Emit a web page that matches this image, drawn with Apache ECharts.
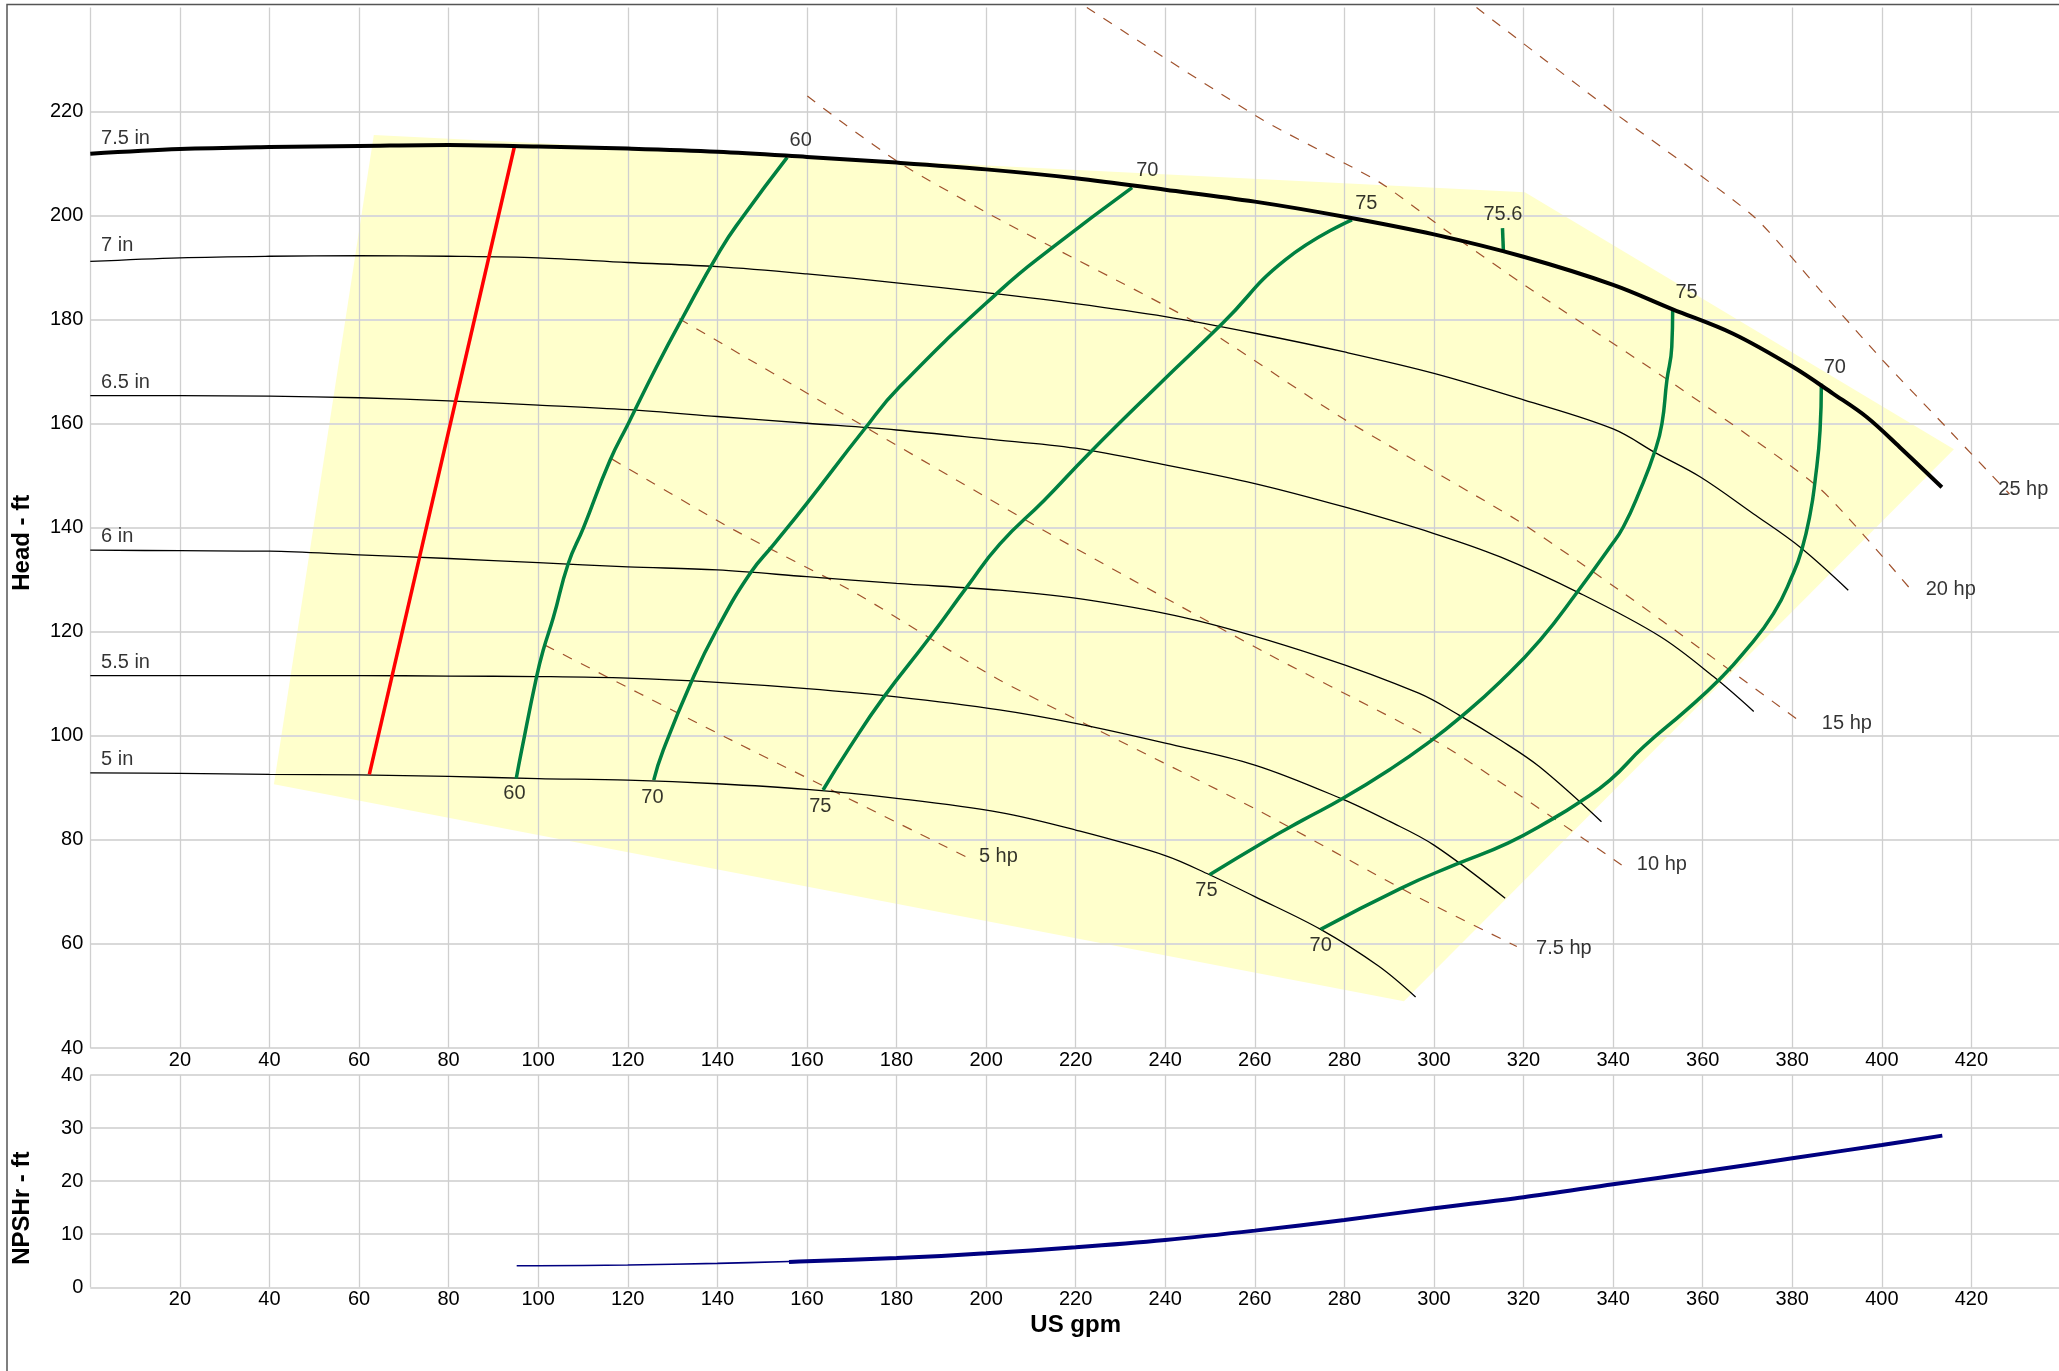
<!DOCTYPE html>
<html>
<head>
<meta charset="utf-8">
<script src="https://cdn.jsdelivr.net/npm/echarts/dist/echarts.min.js"></script>
<style>
html,body{margin:0;padding:0;background:#fff;}
#chart{width:2059px;height:1371px;}
</style>
</head>
<body>
<div id="chart"></div>
<script>
// ---------- impeller diameter curves: [US gpm, head ft] ----------
const dia75in = [[0,211.9],[20,212.8],[40,213.2],[60,213.4],[80,213.6],[100,213.3],[120,212.9],[140,212.3],[160,211.3],[180,210.2],[200,208.9],[220,207.2],[240,205.0],[260,202.7],[280,199.8],[300,196.4],[320,192.1],[340,186.7],[353.3,182.0],[366.8,177.3],[380.2,170.9],[389.1,165.8],[396.6,161.3],[404.0,155.5],[413.4,147.8]];
const dia7in = [[0,191.2],[20,191.9],[40,192.2],[60,192.3],[80,192.2],[100,191.9],[120,191.0],[140,190.2],[160,188.8],[180,187.1],[200,185.2],[220,183.1],[240,180.6],[260,177.4],[280,173.8],[300,169.7],[320,164.6],[340,159.0],[349.7,154.3],[359.4,149.8],[371.3,142.7],[381.7,136.3],[392.5,128.0]];
const dia65in = [[0,165.4],[20,165.4],[40,165.3],[60,165.0],[80,164.4],[100,163.6],[120,162.7],[140,161.4],[160,160.1],[180,158.8],[200,157.1],[220,155.3],[240,152.1],[260,148.5],[280,144.0],[300,138.9],[314.8,134.4],[332.6,127.4],[350.5,119.1],[362.4,111.4],[371.4,104.7]];
const dia6in = [[0,135.7],[20,135.6],[40,135.5],[60,134.8],[80,134.1],[100,133.3],[120,132.5],[140,131.9],[160,130.6],[180,129.3],[203,128.0],[223,126.1],[246.9,122.2],[274.7,115.2],[296.6,108.2],[305.6,104.0],[314.8,99.2],[323.5,94.1],[337.4,83.5]];
const dia55in = [[0,111.6],[20,111.6],[40,111.6],[60,111.6],[80,111.5],[100,111.4],[120,111.1],[140,110.3],[160,109.1],[180,107.5],[203,105.0],[220,102.4],[240,98.6],[260,94.4],[279.7,87.8],[290,83.6],[300,79.0],[315.9,68.8]];
const dia5in = [[0,92.9],[20,92.8],[40,92.6],[60,92.5],[80,92.2],[100,91.8],[120,91.5],[140,90.8],[160,89.7],[180,88.0],[203,85.3],[220,81.9],[240,77.0],[249.9,73.3],[260,69.1],[274.7,62.8],[287.7,55.7],[295.9,49.8]];

// ---------- efficiency curves ----------
const eff60 = [[155.6,211.2],[145.7,199.8],[140.6,193.3],[132.0,180.0],[126.4,170.9],[120.1,160.0],[116.0,152.9],[110.1,140.0],[106.7,133.1],[103.4,122.8],[101.1,116.4],[99.6,111.2],[96.3,97.2],[95.1,91.8]];
const eff70a = [[232.6,205.4],[215.0,194.0],[203.1,185.6],[180.7,167.1],[172.6,158.7],[159.9,144.6],[152.7,136.9],[147.3,131.2],[139.8,120.3],[134.3,110.6],[127.9,97.2],[125.8,91.5]];
const eff75a = [[281.7,199.2],[266.8,191.5],[252.8,179.3],[238.9,167.8],[223.0,154.3],[213.0,145.3],[203.1,136.9],[195.7,128.6],[187.5,119.0],[177.1,107.4],[169.4,97.6],[163.6,89.6]];
const eff75b = [[353.3,182.0],[353.1,174.8],[352.0,168.3],[350.9,160.0],[349.4,154.9],[346.0,147.2],[342.3,140.2],[339.3,136.3],[332.3,128.0],[323.7,118.4],[314.8,110.4],[306.1,103.7],[298.6,98.6],[290.6,93.8],[279.7,88.0],[270.7,83.8],[262.8,80.0],[249.9,73.3]];
const eff70b = [[386.5,167.7],[386.2,158.7],[385.1,149.1],[384.0,142.7],[382.1,135.7],[380.2,131.2],[375.8,123.5],[369.1,115.9],[363.9,111.0],[356.4,105.0],[346.8,97.9],[339.3,91.5],[332.4,87.2],[326.4,84.0],[316.5,79.4],[304.6,75.2],[292.6,70.7],[274.7,62.8]];
const effBest = [[315.5,193.3],[315.3,197.6]];
const minFlow = [[94.7,213.3],[62.3,92.6]];

// ---------- power lines ----------
const hp5 = [[101.6,117.4],[141.7,99.8],[195.4,76.8]];
const hp7_5 = [[116.5,153.2],[143.7,139.6],[171.0,127.4],[203.1,110.7],[259.8,86.1],[294.6,69.8],[318.5,59.5]];
const hp10 = [[131.5,180.2],[214.1,138.9],[262.8,115.8],[302.6,97.9],[341.9,75.2]];
const hp15 = [[160.1,223.0],[168.1,217.8],[181.5,209.7],[203.1,199.2],[245.9,179.9],[279.7,161.0],[318.5,141.5],[342.4,127.4],[359.9,116.5],[382.0,102.6]];
const hp20 = [[222.5,240],[261.8,218.4],[287.7,206.5],[302.6,197.2],[320.5,186.5],[353.3,167.8],[386.2,147.5],[406.3,128.3]];
const hp25 = [[309.5,240],[339.3,220.4],[371.2,200.0],[386.2,185.7],[400.2,172.2],[414.3,159.4],[428.5,146.5]];

// ---------- operating region ----------
const region = [[63.3,215.5],[320.3,204.5],[416.1,155.1],[293.3,49.0],[41.0,90.7]];

// ---------- NPSHr ----------
const npshLow = [[95.2,4.07],[100,4.07],[120,4.2],[140,4.5],[156,4.85]];
const npshHigh = [[156,4.75],[160,4.9],[180,5.5],[200,6.4],[220,7.54],[240,8.92],[260,10.68],[280,12.69],[300,14.89],[320,16.96],[340,19.41],[360,21.8],[380,24.31],[400,26.82],[413.5,28.58]];

// ---------- labels ----------
const diaLabels = [[2.4,214.9,'7.5 in'],[2.4,194.2,'7 in'],[2.4,167.9,'6.5 in'],[2.4,138.3,'6 in'],[2.4,114.1,'5.5 in'],[2.4,95.5,'5 in']];
const effLabels = [[158.6,214.4,'60'],[236.0,208.6,'70'],[284.9,202.3,'75'],[315.4,200.3,'75.6'],[356.4,185.2,'75'],[389.5,170.8,'70'],[94.7,89.0,'60'],[125.5,88.2,'70'],[163.0,86.4,'75'],[249.2,70.3,'75'],[274.7,59.7,'70']];
const hpLabels = [[198.4,76.8,'5 hp'],[322.8,59.1,'7.5 hp'],[345.3,75.3,'10 hp'],[386.6,102.4,'15 hp'],[409.8,128.1,'20 hp'],[426.0,147.4,'25 hp']];

const FONT = "'Liberation Sans', Arial, Helvetica, sans-serif";
const chart = echarts.init(document.getElementById('chart'), null, {renderer:'canvas'});

function lineSeries(data, color, width, extra) {
  return Object.assign({
    type:'line', data:data, xAxisIndex:0, yAxisIndex:0,
    showSymbol:false, symbol:'none', smooth:0.35, silent:true,
    lineStyle:{color:color, width:width}, z:3
  }, extra || {});
}
function dashed(data) {
  return lineSeries(data, '#a0522d', 1.2, {smooth:0.2, lineStyle:{color:'#a0522d', width:1.2, type:[10,10]}});
}
function green(data) {
  return lineSeries(data, '#008040', 3.5, {smooth:0.5, z:4});
}
function labelSeries(arr, pos) {
  return {
    type:'scatter', xAxisIndex:0, yAxisIndex:0, symbolSize:0, silent:true, z:6,
    data: arr.map(a => ({name:a[2], value:[a[0], a[1]]})),
    label:{show:true, position:pos, distance:0, formatter:'{b}', color:'#000', fontSize:20, fontFamily:FONT}
  };
}

const xAxisCommon = {
  type:'value', min:0, max:440, interval:20, z:1,
  axisLine:{show:false}, axisTick:{show:false},
  axisLabel:{color:'#000', fontSize:20, fontFamily:FONT, margin:2, showMinLabel:false, showMaxLabel:false},
  splitLine:{show:true, lineStyle:{color:'#cfcfcf', width:1.3}}
};

const option = {
  animation:false,
  backgroundColor:'#fff',
  textStyle:{fontFamily:FONT},
  grid:[
    {left:90.3, top:7.6, width:1970.7, height:1040.4, outerBoundsMode:'none', containLabel:false},
    {left:90.3, top:1075, width:1970.7, height:212.3, outerBoundsMode:'none', containLabel:false}
  ],
  xAxis:[
    Object.assign({}, xAxisCommon, {gridIndex:0}),
    Object.assign({}, xAxisCommon, {gridIndex:1, name:'US gpm', nameLocation:'middle', nameGap:26,
      nameTextStyle:{color:'#000', fontSize:24, fontWeight:'bold', fontFamily:FONT}})
  ],
  yAxis:[
    {type:'value', gridIndex:0, min:40, max:240, interval:20, z:1,
     name:'Head - ft', nameLocation:'middle', nameGap:56, nameRotate:90,
     nameTextStyle:{color:'#000', fontSize:24, fontWeight:'bold', fontFamily:FONT, padding:[0,30,0,0]},
     axisLine:{show:false}, axisTick:{show:false},
     axisLabel:{color:'#000', fontSize:20, fontFamily:FONT, margin:7, showMaxLabel:false},
     splitLine:{show:true, showMaxLine:false, lineStyle:{color:'#d9d9d9', width:2}}},
    {type:'value', gridIndex:1, min:0, max:40, interval:10, z:1,
     name:'NPSHr - ft', nameLocation:'middle', nameGap:56, nameRotate:90,
     nameTextStyle:{color:'#000', fontSize:24, fontWeight:'bold', fontFamily:FONT, padding:[0,54,0,0]},
     axisLine:{show:false}, axisTick:{show:false},
     axisLabel:{color:'#000', fontSize:20, fontFamily:FONT, margin:7},
     splitLine:{show:true, lineStyle:{color:'#d9d9d9', width:2}}}
  ],
  graphic:[
    {type:'rect', z:100, silent:true, shape:{x:7, y:4.5, width:2100, height:1400},
     style:{fill:null, stroke:'#555', lineWidth:1.5}}
  ],
  series:[
    {type:'custom', xAxisIndex:0, yAxisIndex:0, z:0, silent:true, data:[[0,0]],
     renderItem:function(params, api){
       return {type:'polygon', shape:{points: region.map(p => api.coord(p))}, style:{fill:'#ffffcc'}};
     }},
    dashed(hp5), dashed(hp7_5), dashed(hp10), dashed(hp15), dashed(hp20), dashed(hp25),
    lineSeries(dia7in, '#000', 1.3),
    lineSeries(dia65in, '#000', 1.3),
    lineSeries(dia6in, '#000', 1.3),
    lineSeries(dia55in, '#000', 1.3),
    lineSeries(dia5in, '#000', 1.3),
    lineSeries(minFlow, '#ff0000', 3.5, {smooth:false, z:4}),
    green(eff60), green(eff70a), green(eff75a), green(eff75b), green(eff70b),
    lineSeries(effBest, '#008040', 3.5, {smooth:false, z:4}),
    lineSeries(dia75in, '#000', 4, {z:5}),
    labelSeries(diaLabels, 'right'),
    labelSeries(effLabels, 'inside'),
    labelSeries(hpLabels, 'right'),
    {type:'line', xAxisIndex:1, yAxisIndex:1, data:npshLow, showSymbol:false, symbol:'none', smooth:0.3, silent:true,
     lineStyle:{color:'#000080', width:1.6}, z:3},
    {type:'line', xAxisIndex:1, yAxisIndex:1, data:npshHigh, showSymbol:false, symbol:'none', smooth:0.3, silent:true,
     lineStyle:{color:'#000080', width:4}, z:3}
  ]
};
chart.setOption(option);
</script>
</body>
</html>
